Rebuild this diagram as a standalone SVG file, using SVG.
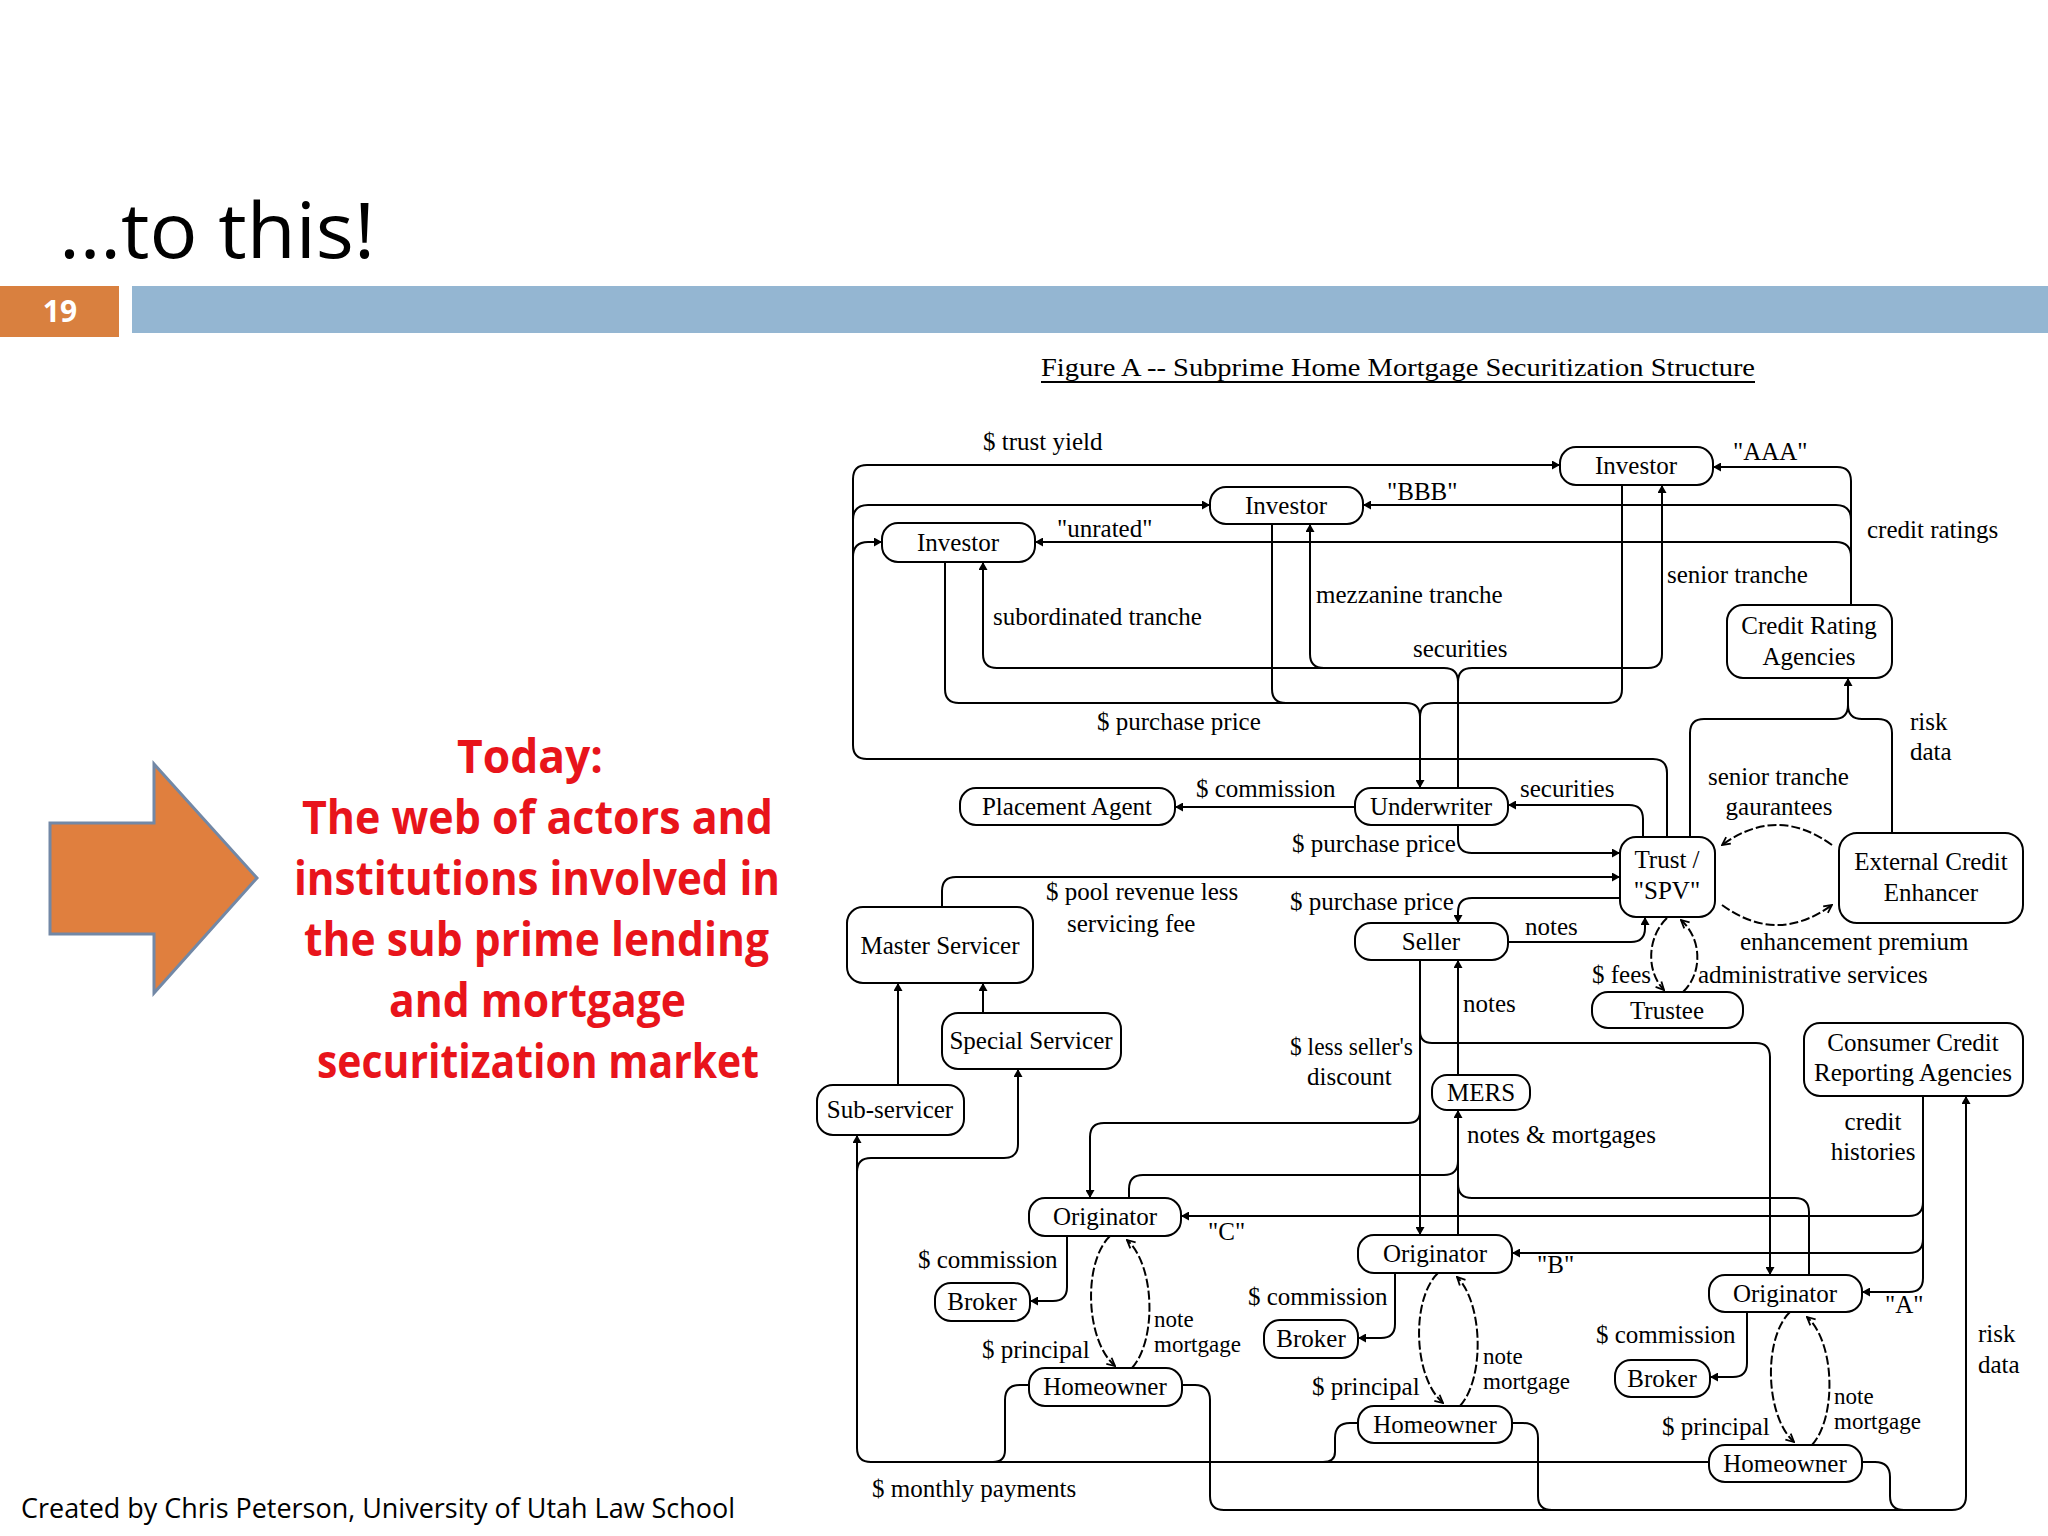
<svg xmlns="http://www.w3.org/2000/svg" width="2048" height="1536" viewBox="0 0 2048 1536">
<defs>
<marker id="ar" viewBox="0 0 8 9" refX="8" refY="4.5" markerWidth="8" markerHeight="9" markerUnits="userSpaceOnUse" orient="auto"><path d="M0,0 L8,4.5 L0,9 z" fill="#000"/></marker>
<marker id="va" viewBox="0 0 10 10" refX="9" refY="5" markerWidth="10" markerHeight="10" markerUnits="userSpaceOnUse" orient="auto"><path d="M1,1 L9,5 L1,9" fill="none" stroke="#000" stroke-width="1.8"/></marker>
<style>
.ln{fill:none;stroke:#000;stroke-width:2}
.ar{marker-end:url(#ar)}
.arc{fill:none;stroke:#000;stroke-width:2;stroke-dasharray:9 3;marker-end:url(#va)}
.nd rect{fill:#fff;stroke:#000;stroke-width:2}
.t{font-family:"Liberation Serif","Times New Roman",serif;font-size:25px;fill:#000}
.s{font-size:23px}
.c{text-anchor:middle}
.red{font-family:"Open Sans","Noto Sans",sans-serif;font-weight:bold;font-size:46px;fill:#E8141B}
</style>
</defs>
<rect width="2048" height="1536" fill="#fff"/>

<!-- slide header -->
<text x="59" y="258" font-family="'Open Sans','Noto Sans',sans-serif" font-size="76" fill="#000" textLength="316" lengthAdjust="spacingAndGlyphs">…to this!</text>
<rect x="0" y="286" width="119" height="51" fill="#D9803F"/>
<text x="60" y="322" font-family="'Open Sans','Noto Sans',sans-serif" font-size="30" font-weight="bold" fill="#fff" text-anchor="middle">19</text>
<rect x="132" y="286" width="1916" height="47" fill="#94B6D2"/>

<!-- big arrow -->
<path d="M50,823 L154,823 L154,764 L257,878 L154,993 L154,934 L50,934 z" fill="#E07F3E" stroke="#7288A6" stroke-width="3"/>

<!-- red text -->
<g class="red">
<text x="457" y="773" textLength="146" lengthAdjust="spacingAndGlyphs">Today:</text>
<text x="302" y="834" textLength="471" lengthAdjust="spacingAndGlyphs">The web of actors and</text>
<text x="294" y="895" textLength="486" lengthAdjust="spacingAndGlyphs">institutions involved in</text>
<text x="304" y="956" textLength="465" lengthAdjust="spacingAndGlyphs">the sub prime lending</text>
<text x="389" y="1017" textLength="297" lengthAdjust="spacingAndGlyphs">and mortgage</text>
<text x="317" y="1078" textLength="442" lengthAdjust="spacingAndGlyphs">securitization market</text>
</g>

<text x="21" y="1518" font-family="'Open Sans','Noto Sans',sans-serif" font-size="27" fill="#000" textLength="714" lengthAdjust="spacingAndGlyphs">Created by Chris Peterson, University of Utah Law School</text>

<!-- figure title -->
<text class="t" x="1041" y="376" font-size="26" textLength="714" lengthAdjust="spacingAndGlyphs">Figure A -- Subprime Home Mortgage Securitization Structure</text>
<line x1="1041" y1="382" x2="1755" y2="382" stroke="#000" stroke-width="2"/>

<!-- connectors -->
<g id="connectors">
<path class="ln ar" d="M1667,837 L1667,773 Q1667,759 1653,759 L867,759 Q853,759 853,745 L853,479 Q853,465 867,465 L1560,465"/>
<path class="ln ar" d="M853,520 Q853,505 868,505 L1210,505"/>
<path class="ln ar" d="M853,557 Q853,542 868,542 L882,542"/>
<path class="ln ar" d="M1851,605 L1851,481 Q1851,467 1837,467 L1713,467"/>
<path class="ln ar" d="M1851,520 Q1851,505 1836,505 L1363,505"/>
<path class="ln ar" d="M1851,557 Q1851,542 1836,542 L1035,542"/>
<path class="ln ar" d="M1458,788 L1458,682 Q1458,668 1444,668 L997,668 Q983,668 983,654 L983,562"/>
<path class="ln ar" d="M1458,682 Q1458,668 1472,668 L1648,668 Q1662,668 1662,654 L1662,485"/>
<path class="ln ar" d="M1324,668 Q1310,668 1310,654 L1310,524"/>
<path class="ln ar" d="M945,562 L945,689 Q945,703 959,703 L1406,703 Q1420,703 1420,717 L1420,788"/>
<path class="ln" d="M1622,485 L1622,689 Q1622,703 1608,703 L1434,703 Q1420,703 1420,717"/>
<path class="ln" d="M1272,524 L1272,689 Q1272,703 1286,703"/>
<path class="ln ar" d="M1355,807 L1175,807"/>
<path class="ln ar" d="M1458,825 L1458,839 Q1458,853 1472,853 L1620,853"/>
<path class="ln ar" d="M1643,837 L1643,819 Q1643,805 1629,805 L1508,805"/>
<path class="ln ar" d="M942,907 L942,891 Q942,877 956,877 L1620,877"/>
<path class="ln ar" d="M1620,898 L1472,898 Q1458,898 1458,912 L1458,923"/>
<path class="ln ar" d="M1508,942 L1631,942 Q1645,942 1645,928 L1645,917"/>
<path class="arc" d="M1667,918 C1648,936 1645,970 1664,990"/>
<path class="arc" d="M1683,992 C1702,974 1703,940 1681,920"/>
<path class="arc" d="M1832,845 Q1777,805 1722,845"/>
<path class="arc" d="M1722,905 Q1777,945 1832,905"/>
<path class="ln ar" d="M1690,837 L1690,733 Q1690,719 1704,719 L1834,719 Q1848,719 1848,705 L1848,678"/>
<path class="ln" d="M1892,833 L1892,733 Q1892,719 1878,719 L1862,719 Q1848,719 1848,705"/>
<path class="ln ar" d="M898,1085 L898,983"/>
<path class="ln ar" d="M983,1013 L983,983"/>
<path class="ln ar" d="M1709,1462 L871,1462 Q857,1462 857,1448 L857,1135"/>
<path class="ln ar" d="M857,1172 Q857,1158 871,1158 L1004,1158 Q1018,1158 1018,1144 L1018,1069"/>
<path class="ln" d="M1029,1385 L1020,1385 Q1005,1385 1005,1400 L1005,1450 Q1005,1462 993,1462"/>
<path class="ln" d="M1358,1423 L1350,1423 Q1335,1423 1335,1438 L1335,1452 Q1335,1462 1323,1462"/>
<path class="ln ar" d="M1182,1385 L1195,1385 Q1210,1385 1210,1400 L1210,1496 Q1210,1510 1224,1510 L1952,1510 Q1966,1510 1966,1496 L1966,1096"/>
<path class="ln" d="M1512,1423 L1523,1423 Q1538,1423 1538,1438 L1538,1496 Q1538,1510 1552,1510"/>
<path class="ln" d="M1862,1462 L1875,1462 Q1890,1462 1890,1477 L1890,1496 Q1890,1510 1904,1510"/>
<path class="ln ar" d="M1923,1096 L1923,1278 Q1923,1292 1909,1292 L1862,1292"/>
<path class="ln ar" d="M1923,1202 Q1923,1216 1909,1216 L1181,1216"/>
<path class="ln ar" d="M1923,1239 Q1923,1253 1909,1253 L1512,1253"/>
<path class="ln ar" d="M1420,960 L1420,1235"/>
<path class="ln ar" d="M1420,1031 Q1420,1043 1432,1043 L1756,1043 Q1770,1043 1770,1057 L1770,1275"/>
<path class="ln ar" d="M1420,1111 Q1420,1123 1408,1123 L1104,1123 Q1090,1123 1090,1137 L1090,1198"/>
<path class="ln ar" d="M1458,1075 L1458,960"/>
<path class="ln ar" d="M1458,1235 L1458,1110"/>
<path class="ln" d="M1129,1198 L1129,1189 Q1129,1175 1143,1175 L1444,1175 Q1458,1175 1458,1161"/>
<path class="ln" d="M1809,1275 L1809,1212 Q1809,1198 1795,1198 L1472,1198 Q1458,1198 1458,1184"/>
<path class="ln ar" d="M1067,1236 L1067,1287 Q1067,1301 1053,1301 L1030,1301"/>
<path class="ln ar" d="M1395,1273 L1395,1324 Q1395,1338 1381,1338 L1358,1338"/>
<path class="ln ar" d="M1747,1312 L1747,1363 Q1747,1377 1733,1377 L1710,1377"/>
<path class="arc" d="M1110,1236 C1083,1262 1085,1340 1115,1366"/>
<path class="arc" d="M1132,1368 C1157,1340 1155,1265 1127,1240"/>
<path class="arc" d="M1438,1273 C1411,1299 1413,1377 1443,1403"/>
<path class="arc" d="M1460,1406 C1485,1378 1483,1303 1457,1277"/>
<path class="arc" d="M1790,1312 C1763,1338 1765,1416 1794,1442"/>
<path class="arc" d="M1812,1445 C1837,1417 1835,1342 1807,1317"/>
</g>

<!-- connector labels -->
<g class="t">
<text x="983" y="450">$ trust yield</text>
<text x="1733" y="460">"AAA"</text>
<text x="1387" y="500">"BBB"</text>
<text x="1057" y="537">"unrated"</text>
<text x="1867" y="538">credit ratings</text>
<text x="1667" y="583">senior tranche</text>
<text x="1316" y="603">mezzanine tranche</text>
<text x="993" y="625">subordinated tranche</text>
<text x="1413" y="657">securities</text>
<text x="1097" y="730">$ purchase price</text>
<text x="1196" y="797">$ commission</text>
<text x="1520" y="797">securities</text>
<text x="1292" y="852">$ purchase price</text>
<text x="1046" y="900">$ pool revenue less</text>
<text x="1067" y="932">servicing fee</text>
<text x="1290" y="910">$ purchase price</text>
<text x="1525" y="935">notes</text>
<text x="1708" y="785">senior tranche</text>
<text x="1779" y="815" class="c">gaurantees</text>
<text x="1910" y="730">risk</text>
<text x="1910" y="760">data</text>
<text x="1740" y="950">enhancement premium</text>
<text x="1592" y="983">$ fees</text>
<text x="1698" y="983">administrative services</text>
<text x="1463" y="1012">notes</text>
<text x="1290" y="1055" textLength="123" lengthAdjust="spacingAndGlyphs">$ less seller's</text>
<text x="1307" y="1085">discount</text>
<text x="1467" y="1143">notes &amp; mortgages</text>
<text x="1873" y="1130" class="c">credit</text>
<text x="1873" y="1160" class="c">histories</text>
<text x="1208" y="1240">"C"</text>
<text x="1537" y="1273">"B"</text>
<text x="1885" y="1313">"A"</text>
<text x="918" y="1268">$ commission</text>
<text x="982" y="1358">$ principal</text>
<text class="s" x="1154" y="1327">note</text>
<text class="s" x="1154" y="1352">mortgage</text>
<text x="1248" y="1305">$ commission</text>
<text x="1312" y="1395">$ principal</text>
<text class="s" x="1483" y="1364">note</text>
<text class="s" x="1483" y="1389">mortgage</text>
<text x="1596" y="1343">$ commission</text>
<text x="1662" y="1435">$ principal</text>
<text class="s" x="1834" y="1404">note</text>
<text class="s" x="1834" y="1429">mortgage</text>
<text x="1978" y="1342">risk</text>
<text x="1978" y="1373">data</text>
<text x="872" y="1497">$ monthly payments</text>
</g>

<!-- nodes -->
<g id="inv_aaa" class="nd"><rect x="1560" y="447" width="153" height="38" rx="16"/><text class="t c" x="1636" y="474">Investor</text></g>
<g id="inv_bbb" class="nd"><rect x="1210" y="487" width="153" height="37" rx="16"/><text class="t c" x="1286" y="514">Investor</text></g>
<g id="inv_unrated" class="nd"><rect x="882" y="523" width="153" height="39" rx="16"/><text class="t c" x="958" y="551">Investor</text></g>
<g id="credit_rating" class="nd"><rect x="1727" y="605" width="165" height="73" rx="16"/><text class="t c" x="1809" y="634">Credit Rating</text><text class="t c" x="1809" y="665">Agencies</text></g>
<g id="placement" class="nd"><rect x="960" y="788" width="215" height="37" rx="16"/><text class="t c" x="1067" y="815">Placement Agent</text></g>
<g id="underwriter" class="nd"><rect x="1355" y="788" width="153" height="37" rx="16"/><text class="t c" x="1431" y="815">Underwriter</text></g>
<g id="trust" class="nd"><rect x="1620" y="837" width="95" height="80" rx="16"/><text class="t c" x="1667" y="868">Trust /</text><text class="t c" x="1667" y="899">"SPV"</text></g>
<g id="ece" class="nd"><rect x="1839" y="833" width="184" height="90" rx="18"/><text class="t c" x="1931" y="870">External Credit</text><text class="t c" x="1931" y="901">Enhancer</text></g>
<g id="master" class="nd"><rect x="847" y="907" width="186" height="76" rx="16"/><text class="t c" x="940" y="954">Master Servicer</text></g>
<g id="seller" class="nd"><rect x="1355" y="923" width="153" height="37" rx="16"/><text class="t c" x="1431" y="950">Seller</text></g>
<g id="trustee" class="nd"><rect x="1592" y="992" width="151" height="36" rx="16"/><text class="t c" x="1667" y="1019">Trustee</text></g>
<g id="special" class="nd"><rect x="942" y="1013" width="179" height="56" rx="16"/><text class="t c" x="1031" y="1049">Special Servicer</text></g>
<g id="subservicer" class="nd"><rect x="817" y="1085" width="147" height="50" rx="16"/><text class="t c" x="890" y="1118">Sub-servicer</text></g>
<g id="mers" class="nd"><rect x="1432" y="1075" width="98" height="35" rx="15"/><text class="t c" x="1481" y="1101">MERS</text></g>
<g id="consumer_credit" class="nd"><rect x="1804" y="1023" width="219" height="73" rx="16"/><text class="t c" x="1913" y="1051">Consumer Credit</text><text class="t c" x="1913" y="1081">Reporting Agencies</text></g>
<g id="orig_c" class="nd"><rect x="1029" y="1198" width="152" height="38" rx="16"/><text class="t c" x="1105" y="1225">Originator</text></g>
<g id="orig_b" class="nd"><rect x="1358" y="1235" width="154" height="38" rx="16"/><text class="t c" x="1435" y="1262">Originator</text></g>
<g id="orig_a" class="nd"><rect x="1709" y="1275" width="153" height="37" rx="16"/><text class="t c" x="1785" y="1302">Originator</text></g>
<g id="broker_c" class="nd"><rect x="935" y="1283" width="95" height="38" rx="16"/><text class="t c" x="982" y="1310">Broker</text></g>
<g id="broker_b" class="nd"><rect x="1264" y="1320" width="94" height="38" rx="16"/><text class="t c" x="1311" y="1347">Broker</text></g>
<g id="broker_a" class="nd"><rect x="1615" y="1360" width="95" height="37" rx="16"/><text class="t c" x="1662" y="1387">Broker</text></g>
<g id="home_c" class="nd"><rect x="1029" y="1368" width="153" height="38" rx="16"/><text class="t c" x="1105" y="1395">Homeowner</text></g>
<g id="home_b" class="nd"><rect x="1358" y="1406" width="154" height="37" rx="16"/><text class="t c" x="1435" y="1433">Homeowner</text></g>
<g id="home_a" class="nd"><rect x="1709" y="1445" width="153" height="37" rx="16"/><text class="t c" x="1785" y="1472">Homeowner</text></g>
</svg>
